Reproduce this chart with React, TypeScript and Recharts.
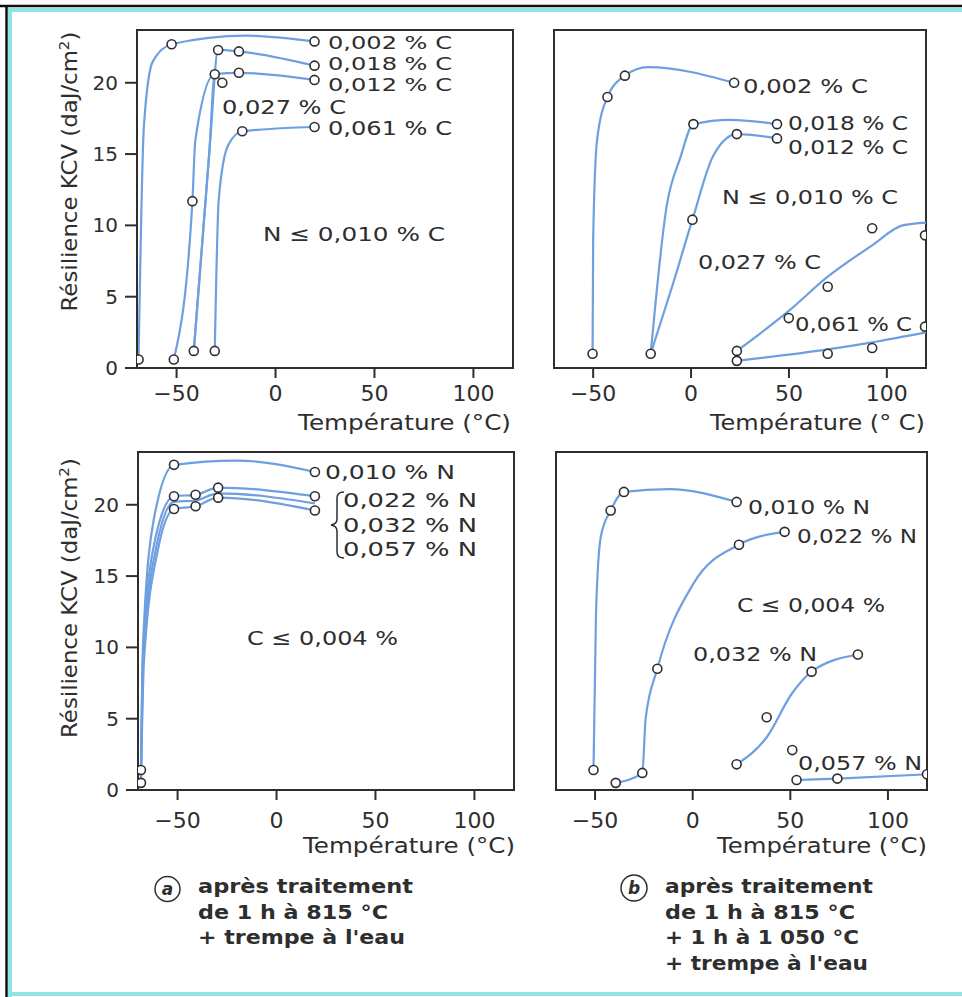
import { ComposedChart, Line, Scatter, XAxis, YAxis, ReferenceArea } from 'recharts'

// [temperature °C, KCV daJ/cm², kind] kind: 'm' = marker only, 'l' = curve only, none = both
type Pt = [number, number, ('m' | 'l')?]

const xTicks = [-50, 0, 50, 100]
const yTicks = [0, 5, 10, 15, 20]

// (a) top: N <= 0,010 %, carbon varies
const aC002: Pt[] = [[-69.2, 0.6], [-66.5, 17, 'l'], [-62, 21.5, 'l'], [-52.5, 22.7], [-15, 23.3, 'l'], [19.7, 22.9]]
const aC018: Pt[] = [[-41.3, 1.2], [-33, 16, 'l'], [-29, 22.3], [-18.5, 22.2], [19.7, 21.2]]
const aC012: Pt[] = [[-41.3, 1.2, 'l'], [-33.5, 15, 'l'], [-30.7, 20.6, 'l'], [-18.5, 20.7], [19.7, 20.2]]
const aC027: Pt[] = [[-51.4, 0.6], [-42, 11.7], [-40.5, 16, 'l'], [-30.7, 20.6], [-26.9, 20.0]]
const aC061: Pt[] = [[-30.7, 1.2], [-28.7, 11.8, 'l'], [-24, 15.6, 'l'], [-16.8, 16.6], [19.7, 16.9]]

// (b) top: N <= 0,010 %, carbon varies
const bC002: Pt[] = [[-50.3, 1.0], [-50, 9, 'l'], [-48, 16, 'l'], [-42.7, 19.0], [-33.8, 20.5], [-22, 21.1, 'l'], [22, 20.0]]
const bC018: Pt[] = [[-20.6, 1.0], [-12.4, 11.4, 'l'], [-5.6, 14.7, 'l'], [1.2, 17.1], [20, 17.4, 'l'], [43.9, 17.1]]
const bC012: Pt[] = [[-20.6, 1.0, 'l'], [-9, 6, 'l'], [0.7, 10.4], [11.4, 14.9, 'l'], [23.4, 16.4], [43.9, 16.1]]
const bC027: Pt[] = [[23.4, 1.2], [49.9, 4.0, 'l'], [49.9, 3.5, 'm'], [69.8, 6.4, 'l'], [69.8, 5.7, 'm'], [92.5, 8.6, 'l'], [92.5, 9.8, 'm'], [108, 10.0, 'l'], [120, 10.2, 'l'], [119.5, 9.3, 'm']]
const bC061: Pt[] = [[23.4, 0.5], [69.8, 1.3, 'l'], [69.8, 1.0, 'm'], [92.5, 1.8, 'l'], [92.5, 1.4, 'm'], [120, 2.5, 'l'], [119.5, 2.9, 'm']]

// (a) bottom: C <= 0,004 %, nitrogen varies
const cN010: Pt[] = [[-68.5, 1.4], [-67.5, 10, 'l'], [-62, 19, 'l'], [-51.8, 22.8], [-20, 23.1, 'l'], [19.4, 22.3]]
const cN022: Pt[] = [[-68.5, 1.4, 'l'], [-67.3, 10, 'l'], [-61, 17.8, 'l'], [-51.8, 20.6], [-40.9, 20.7], [-29.5, 21.2], [19.4, 20.6]]
const cN032: Pt[] = [[-68.5, 0.5, 'l'], [-67.3, 9.5, 'l'], [-60.5, 17.2, 'l'], [-51.8, 20.2, 'l'], [-40.9, 20.3, 'l'], [-29.5, 20.8, 'l'], [19.4, 20.1, 'l']]
const cN057: Pt[] = [[-68.5, 0.5], [-67, 9, 'l'], [-60, 16.8, 'l'], [-51.8, 19.7], [-40.9, 19.9], [-29.5, 20.5], [19.4, 19.6]]

// (b) bottom: C <= 0,004 %, nitrogen varies
const dN010: Pt[] = [[-50.8, 1.4], [-49.5, 12.5, 'l'], [-47, 17.8, 'l'], [-42, 19.6], [-35.2, 20.9], [-12, 21.1, 'l'], [22.5, 20.2]]
const dN022: Pt[] = [[-39.4, 0.5], [-25.8, 1.2], [-24.1, 5, 'l'], [-18.1, 8.5], [0.5, 14.5, 'l'], [23.7, 17.2], [47.1, 18.1]]
const dN032: Pt[] = [[22.5, 1.8], [37.9, 3.7, 'l'], [37.9, 5.1, 'm'], [51, 6.8, 'l'], [60.9, 8.3], [84.6, 9.5]]
const dN057: Pt[] = [[51, 2.8, 'm'], [53.2, 0.7], [74.1, 0.8], [120, 1.1]]

const FONT = 'DejaVu Sans'
const INK = '#2e2e2e'
const CURVE = '#6e9fe0'

const lineOf = (pts: Pt[]) => pts.filter(p => p[2] !== 'm').map(([x, y]) => ({ x, y }))
const marksOf = (pts: Pt[]) => pts.filter(p => p[2] !== 'l').map(([x, y]) => ({ x, y }))
const fmt = (v: number) => (v < 0 ? `−${-v}` : `${v}`)

function Panel({ left, top, w, h, series, showY, gap }: {
  left: number; top: number; w: number; h: number; series: Pt[][]; showY: boolean; gap: number
}) {
  const YW = 70, MT = 10, XH = 50, MR = 20
  return (
    <div style={{ position: 'absolute', left: left - YW, top: top - MT }}>
      <ComposedChart width={w + YW + MR} height={h + MT + XH} margin={{ top: MT, right: MR, bottom: 0, left: 0 }}>
        <XAxis type="number" dataKey="x" domain={[-70, 120]} ticks={xTicks} allowDataOverflow height={XH}
          tickSize={10} tickMargin={gap} tickFormatter={fmt} stroke={INK} strokeWidth={2}
          tick={{ fontFamily: FONT, fontSize: 22, fill: INK }} />
        <YAxis type="number" dataKey="y" domain={[0, 23.7]} allowDataOverflow width={YW}
          ticks={showY ? yTicks : []} tick={showY ? { fontFamily: FONT, fontSize: 20, fill: INK } : false}
          tickLine={showY} axisLine={showY} tickSize={12} tickMargin={7} stroke={INK} strokeWidth={2} />
        <ReferenceArea x1={-70} x2={120} y1={0} y2={23.7} fill="none" stroke={INK} strokeWidth={2} />
        {series.map((s, i) => (
          <Line key={'l' + i} data={lineOf(s)} dataKey="y" type="monotone" stroke={CURVE} strokeWidth={2.2}
            dot={false} activeDot={false} isAnimationActive={false} />
        ))}
        {series.map((s, i) => (
          <Scatter key={'s' + i} data={marksOf(s)} dataKey="y" fill="#fff" stroke={INK} strokeWidth={1.6}
            isAnimationActive={false} />
        ))}
      </ComposedChart>
    </div>
  )
}

function T({ x, y, len, size = 20, bold = false, children }: { x: number; y: number; len: number; size?: number; bold?: boolean; children: any }) {
  return (
    <text x={x} y={y} textLength={len} lengthAdjust="spacingAndGlyphs" fontFamily={FONT} fontSize={size}
      fontWeight={bold ? 'bold' : 'normal'} fill={INK}>{children}</text>
  )
}

function YTitle({ cy }: { cy: number }) {
  return (
    <text transform={`translate(77,${cy}) rotate(-90)`} textAnchor="middle" textLength={280} lengthAdjust="spacingAndGlyphs"
      fontFamily={FONT} fontSize={21} fill={INK}>Résilience KCV (daJ/cm<tspan dy={-8} fontSize={14}>2</tspan><tspan dy={8}>)</tspan></text>
  )
}

export default function App() {
  return (
    <div style={{ position: 'absolute', left: 0, top: 0, width: 962, height: 997, background: '#fff', overflow: 'hidden' }}>
      <Panel left={137} top={30} w={376} h={338} series={[aC002, aC018, aC012, aC027, aC061]} showY gap={7} />
      <Panel left={554} top={30} w={372} h={338} series={[bC002, bC018, bC012, bC027, bC061]} showY={false} gap={7} />
      <Panel left={138} top={452} w={376} h={338} series={[cN010, cN022, cN032, cN057]} showY gap={12} />
      <Panel left={556} top={452} w={371} h={338} series={[dN010, dN022, dN032, dN057]} showY={false} gap={12} />

      <svg width={962} height={997} style={{ position: 'absolute', left: 0, top: 0, pointerEvents: 'none' }}>
        {/* frame */}
        <rect x={8} y={8} width={954} height={4} fill="#8fe3e3" />
        <rect x={8} y={8} width={4} height={989} fill="#8fe3e3" />
        <rect x={8} y={992} width={954} height={4} fill="#8fe3e3" />
        <line x1={0} y1={6} x2={962} y2={6} stroke="#111" strokeWidth={2.5} />
        <line x1={6.5} y1={6} x2={6.5} y2={997} stroke="#111" strokeWidth={2.5} />

        {/* top-left */}
        <T x={328} y={49} len={124} size={18}>0,002 % C</T>
        <T x={328} y={70} len={124} size={18}>0,018 % C</T>
        <T x={328} y={91} len={124} size={18}>0,012 % C</T>
        <T x={222} y={114} len={124} size={19}>0,027 % C</T>
        <T x={328} y={135} len={124}>0,061 % C</T>
        <T x={263} y={241} len={182}>N ≤ 0,010 % C</T>
        <T x={298} y={430} len={213} size={21}>Température (°C)</T>
        <YTitle cy={171.5} />

        {/* top-right */}
        <T x={743} y={93} len={125}>0,002 % C</T>
        <T x={788} y={130} len={120}>0,018 % C</T>
        <T x={788} y={154} len={120}>0,012 % C</T>
        <T x={722} y={204} len={176}>N ≤ 0,010 % C</T>
        <T x={698} y={269} len={123}>0,027 % C</T>
        <T x={795} y={331} len={117}>0,061 % C</T>
        <T x={710} y={430} len={215} size={21}>Température (° C)</T>

        {/* bottom-left */}
        <T x={325} y={479} len={130}>0,010 % N</T>
        <path d="M344 492 Q337 492 337 498 L337 519 Q337 524 331 525 Q337 526 337 531 L337 552 Q337 558 344 558"
          fill="none" stroke={INK} strokeWidth={1.5} />
        <T x={343} y={507} len={134}>0,022 % N</T>
        <T x={343} y={532} len={134}>0,032 % N</T>
        <T x={343} y={556} len={134}>0,057 % N</T>
        <T x={247} y={645} len={151}>C ≤ 0,004 %</T>
        <T x={303} y={853} len={212} size={21}>Température (°C)</T>
        <YTitle cy={598} />
        <circle cx={167.5} cy={889} r={12.5} fill="none" stroke={INK} strokeWidth={1.5} />
        <text x={167.5} y={895} textAnchor="middle" fontFamily={FONT} fontSize={17} fontStyle="italic" fontWeight="bold" fill={INK}>a</text>
        <T x={198} y={893} len={215} size={19} bold>après traitement</T>
        <T x={198} y={919} len={190} size={19} bold>de 1 h à 815 °C</T>
        <T x={198} y={944} len={207} size={19} bold>+ trempe à l'eau</T>

        {/* bottom-right */}
        <T x={748} y={514} len={122}>0,010 % N</T>
        <T x={797} y={543} len={120}>0,022 % N</T>
        <T x={737} y={612} len={148}>C ≤ 0,004 %</T>
        <T x={693} y={661} len={124}>0,032 % N</T>
        <T x={798} y={770} len={124}>0,057 % N</T>
        <T x={717} y={853} len={210} size={21}>Température (°C)</T>
        <circle cx={634} cy={888} r={13} fill="none" stroke={INK} strokeWidth={1.5} />
        <text x={634} y={894} textAnchor="middle" fontFamily={FONT} fontSize={17} fontStyle="italic" fontWeight="bold" fill={INK}>b</text>
        <T x={665} y={893} len={208} size={19} bold>après traitement</T>
        <T x={665} y={919} len={190} size={19} bold>de 1 h à 815 °C</T>
        <T x={665} y={944} len={194} size={19} bold>+ 1 h à 1 050 °C</T>
        <T x={665} y={970} len={203} size={19} bold>+ trempe à l'eau</T>
      </svg>
    </div>
  )
}
